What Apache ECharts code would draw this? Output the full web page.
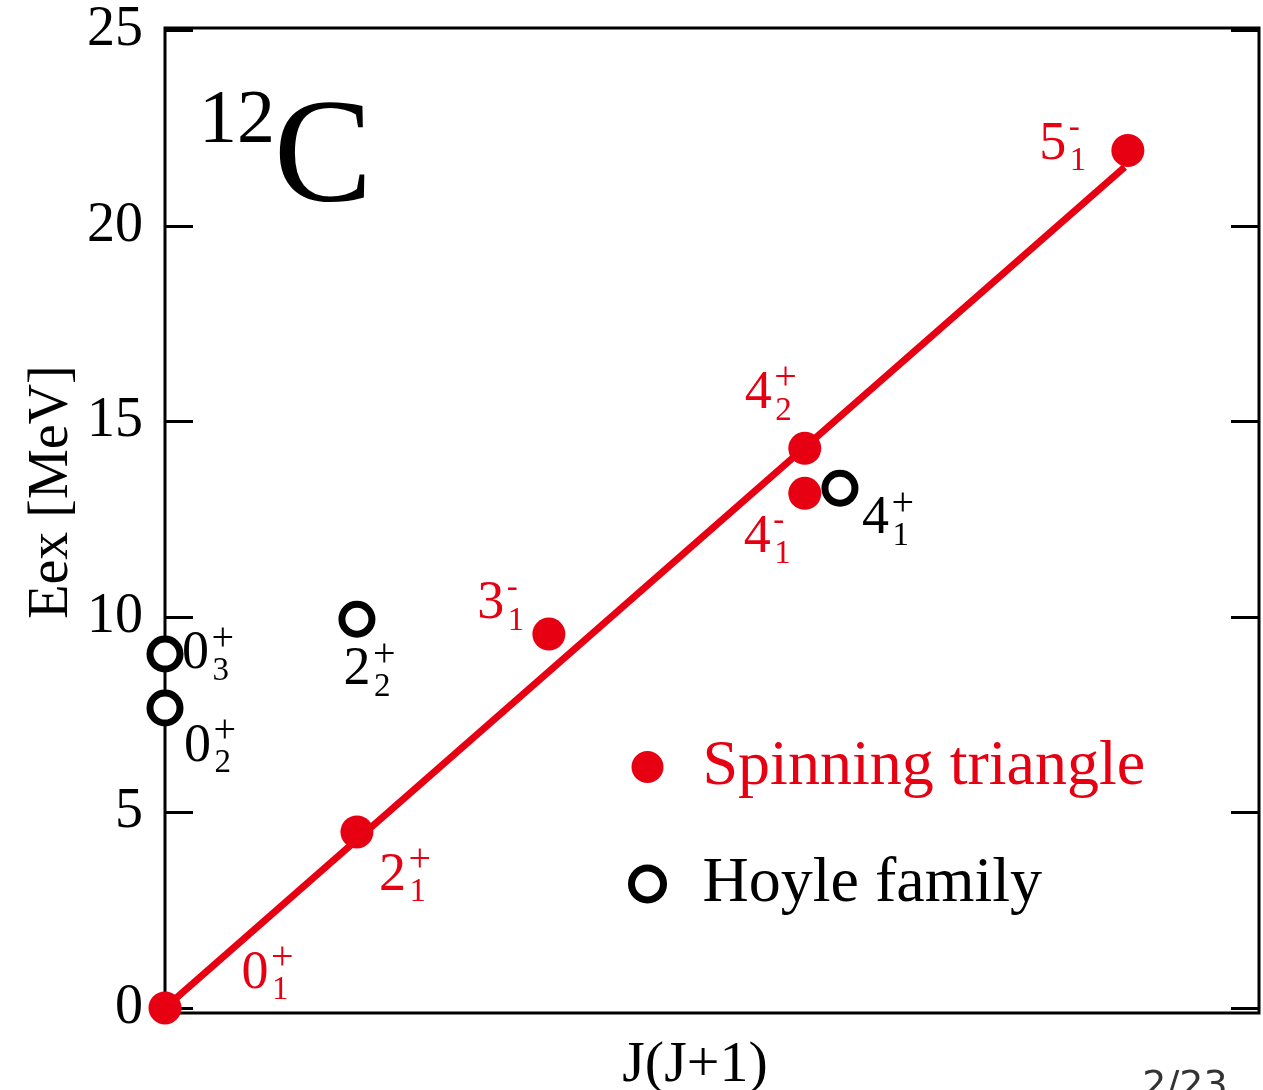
<!DOCTYPE html>
<html><head><meta charset="utf-8">
<script src="https://cdn.jsdelivr.net/npm/echarts@6/dist/echarts.min.js"></script>
<style>html,body{margin:0;padding:0;background:#fff}#chart{width:1263px;height:1090px}</style>
</head><body><div id="chart"></div>
<script>
// ---- data ----
const spinX = [0, 6, 12, 20, 20, 30.1];
const spinY = [0, 4.50, 9.56, 14.31, 13.16, 21.93];
const spinSpin = ['0', '2', '3', '4', '4', '5'];
const spinParity = ['+', '+', '-', '+', '-', '-'];
const spinIndex = ['1', '1', '1', '2', '1', '1'];

const hoyleX = [0, 0, 6, 21.1];
const hoyleY = [7.67, 9.05, 9.94, 13.29];
const hoyleSpin = ['0', '0', '2', '4'];
const hoyleParity = ['+', '+', '+', '+'];
const hoyleIndex = ['2', '3', '2', '1'];

const fitX = [0, 30];
const fitY = [0, 21.5];

const yTicks = [0, 5, 10, 15, 20, 25];
const seriesNames = ['Spinning triangle', 'Hoyle family'];

// ---- layout (label offsets in px, relative to each point) ----
const spinLabelOffset = [[90, -34.5], [35.5, 43.5], [-58, -30], [-46.5, -54.5], [-47.5, 44.5], [-75, -6]];
const hoyleLabelOffset = [[32.5, 38.5], [30.5, 0], [0, 51], [35.5, 31]];

const RED = '#e60012';
const SERIF = '"Liberation Serif", "Times New Roman", serif';

function makeLabelRenderer(spins, parities, idxs, offsets, color) {
  return function (params, api) {
    const i = params.dataIndex;
    const p = api.coord([api.value(0), api.value(1)]);
    const cx = p[0] + offsets[i][0], cy = p[1] + offsets[i][1];
    const sign = parities[i];
    return {
      type: 'group',
      children: [
        { type: 'text', x: cx, y: cy, style: { text: spins[i], fill: color, fontFamily: SERIF, fontSize: 54, align: 'center', verticalAlign: 'middle' } },
        { type: 'text', x: cx + 16, y: cy + (sign === '+' ? -15 : -16), style: { text: sign, fill: color, fontFamily: SERIF, fontSize: sign === '+' ? 40 : 33, align: 'left', verticalAlign: 'middle' } },
        { type: 'text', x: cx + 17, y: cy + 17, style: { text: idxs[i], fill: color, fontFamily: SERIF, fontSize: 33, align: 'left', verticalAlign: 'middle' } }
      ]
    };
  };
}

const spinData = spinX.map((x, i) => [x, spinY[i]]);
const hoyleData = hoyleX.map((x, i) => [x, hoyleY[i]]);
const fitData = fitX.map((x, i) => [x, fitY[i]]);

const chart = echarts.init(document.getElementById('chart'), null, { renderer: 'canvas' });
chart.setOption({
  backgroundColor: '#fff',
  animation: false,
  grid: { left: 165, right: 4, top: 28, bottom: 77, show: true, borderColor: '#000', borderWidth: 3, backgroundColor: 'transparent' },
  xAxis: {
    type: 'value', min: 0, max: 34.2,
    axisLine: { show: false }, axisTick: { show: false }, axisLabel: { show: false }, splitLine: { show: false }
  },
  yAxis: [
    {
      type: 'value', min: -0.13, max: 25.06, position: 'left',
      axisLine: { show: false }, splitLine: { show: false },
      axisTick: { show: true, inside: true, length: 28, lineStyle: { color: '#000', width: 3 }, customValues: yTicks },
      axisLabel: { customValues: yTicks, fontSize: 56, fontFamily: SERIF, color: '#000', margin: 22 }
    },
    {
      type: 'value', min: -0.13, max: 25.06, position: 'right',
      axisLine: { show: false }, splitLine: { show: false },
      axisTick: { show: true, inside: true, length: 28, lineStyle: { color: '#000', width: 3 }, customValues: yTicks },
      axisLabel: { show: false }
    }
  ],
  legend: {
    orient: 'vertical', left: 623, top: 730, itemWidth: 100, itemHeight: 32, itemGap: 53,
    textStyle: { fontSize: 64, fontFamily: SERIF },
    data: [
      { name: seriesNames[0], icon: 'circle', itemStyle: { color: RED, borderWidth: 0, opacity: 1 }, textStyle: { color: RED } },
      { name: seriesNames[1], icon: 'circle', itemStyle: { color: '#fff', borderColor: '#000', borderWidth: 7, opacity: 1 }, textStyle: { color: '#000' } }
    ]
  },
  series: [
    { name: 'fit', type: 'line', data: fitData, symbol: 'none', lineStyle: { color: RED, width: 7 }, z: 2, silent: true },
    { name: seriesNames[0], type: 'scatter', data: spinData, symbolSize: 33, itemStyle: { color: RED, opacity: 1 }, z: 3, clip: false },
    { name: seriesNames[1], type: 'scatter', data: hoyleData, symbolSize: 30, itemStyle: { color: '#fff', borderColor: '#000', borderWidth: 7, opacity: 1 }, z: 3, clip: false },
    { name: 'spinLabels', type: 'custom', data: spinData, renderItem: makeLabelRenderer(spinSpin, spinParity, spinIndex, spinLabelOffset, RED), z: 4, clip: false, silent: true },
    { name: 'hoyleLabels', type: 'custom', data: hoyleData, renderItem: makeLabelRenderer(hoyleSpin, hoyleParity, hoyleIndex, hoyleLabelOffset, '#000'), z: 4, clip: false, silent: true }
  ],
  graphic: [
    { type: 'text', x: 237, y: 122, style: { text: '12', fill: '#000', fontFamily: SERIF, fontSize: 76, align: 'center', verticalAlign: 'middle' } },
    { type: 'text', x: 323, y: 162.5, style: { text: 'C', fill: '#000', fontFamily: SERIF, fontSize: 148, align: 'center', verticalAlign: 'middle' } },
    { type: 'text', x: 52, y: 492, rotation: Math.PI / 2, style: { text: 'Eex [MeV]', fill: '#000', fontFamily: SERIF, fontSize: 56, align: 'center', verticalAlign: 'middle' } },
    { type: 'text', x: 695, y: 1066, style: { text: 'J(J+1)', fill: '#000', fontFamily: SERIF, fontSize: 58, align: 'center', verticalAlign: 'middle' } },
    { type: 'text', x: 1185, y: 1087, style: { text: '2/23', fill: '#333', fontFamily: '"DejaVu Sans", sans-serif', fontSize: 38, align: 'center', verticalAlign: 'middle' } }
  ]
});
</script>
</body></html>
